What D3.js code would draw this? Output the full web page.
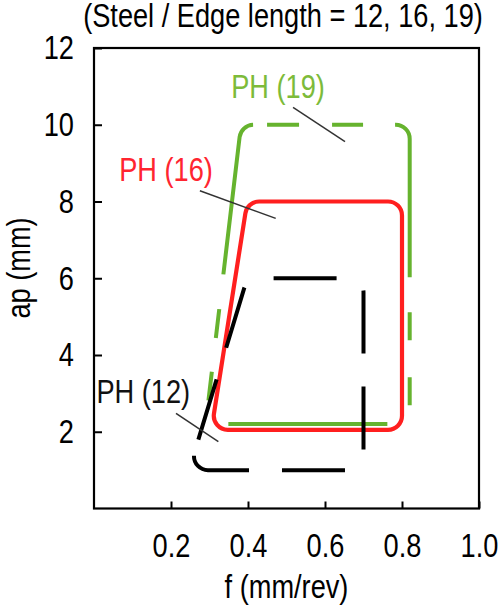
<!DOCTYPE html>
<html>
<head>
<meta charset="utf-8">
<script src="https://cdn.jsdelivr.net/npm/d3@7"></script>
<style>
  body { margin: 0; background: #fff; }
  svg text { font-family: "Liberation Sans", Arial, sans-serif; }
</style>
</head>
<body>
<svg id="chart" width="500" height="606"></svg>
<script>
// valeurs
const xTicks = [0.2, 0.4, 0.6, 0.8, 1.0];
const yTicks = [2, 4, 6, 8, 10, 12];
const seriesNames = ['PH (12)', 'PH (16)', 'PH (19)'];

// contours (f en mm/rev, ap en mm), sommets : bas-gauche, haut-gauche, haut-droit, bas-droit
const fPH12 = [0.247, 0.398, 0.70, 0.70];
const apPH12 = [1.0, 6.0, 6.0, 1.0];
const fPH16 = [0.305, 0.398, 0.80, 0.80];
const apPH16 = [2.05, 8.0, 8.0, 2.05];
const fPH19 = [0.29, 0.382, 0.82, 0.82];
const apPH19 = [2.2, 10.0, 10.0, 2.2];

const width = 500, height = 606;
const margin = { top: 48, right: 21, bottom: 97.5, left: 94 };

const svg = d3.select('#chart');

const x = d3.scaleLinear().domain([0, 1]).range([margin.left, width - margin.right]);
const y = d3.scaleLinear().domain([0, 12]).range([height - margin.bottom, margin.top]);

const fontSize = 34;
const squeeze = 0.8; // police étroite simulée

// resserre le texte horizontalement autour de son point d'ancrage
function condense(sel, extra) {
    sel.each(function () {
        const t = d3.select(this);
        const tx = +t.attr('x') || 0, ty = +t.attr('y') || 0;
        t.attr('x', 0).attr('y', 0)
            .attr('transform', `translate(${tx},${ty}) ${extra || ''} scale(${squeeze},1)`);
    });
}

// chemin fermé à coins arrondis (arcs), départ au point de tangence après le premier sommet
function roundedPath(pts, r) {
    const n = pts.length;
    const p = d3.path();
    const v0 = pts[0], a = pts[n - 1], b = pts[1];
    const u1 = [a[0] - v0[0], a[1] - v0[1]], u2 = [b[0] - v0[0], b[1] - v0[1]];
    const l1 = Math.hypot(u1[0], u1[1]), l2 = Math.hypot(u2[0], u2[1]);
    const theta = Math.acos((u1[0] * u2[0] + u1[1] * u2[1]) / (l1 * l2));
    const t = r / Math.tan(theta / 2);
    p.moveTo(v0[0] + u2[0] * t / l2, v0[1] + u2[1] * t / l2);
    for (let i = 1; i <= n; i++) {
        const v = pts[i % n];
        const next = pts[(i + 1) % n];
        p.arcTo(v[0], v[1], next[0], next[1], r);
    }
    p.closePath();
    return p.toString();
}

const shapes = [
    { name: seriesNames[2], f: fPH19, ap: apPH19, color: '#66b32e', width: 4,
      dash: '0 8 29 34 29 35 158 14 32 33 31 32 161 35 28 37 28 35 159 40', offset: 0 },
    { name: seriesNames[1], f: fPH16, ap: apPH16, color: '#ff1f1f', width: 4.2, dash: null, offset: 0 },
    { name: seriesNames[0], f: fPH12, ap: apPH12, color: '#000', width: 4, dash: '63 33', offset: 83 }
];

svg.append('g')
    .selectAll('path')
    .data(shapes)
    .enter()
    .append('path')
    .attr('d', d => roundedPath(d.f.map((v, i) => [x(v), y(d.ap[i])]), 14))
    .attr('fill', 'none')
    .attr('stroke', d => d.color)
    .attr('stroke-width', d => d.width)
    .attr('stroke-dasharray', d => d.dash)
    .attr('stroke-dashoffset', d => d.offset);

// étiquettes et traits de rappel
const notes = [
    { text: seriesNames[2], color: '#7dbb3a', tf: 0.478, tap: 10.69, l: [[0.517, 10.45], [0.652, 9.56]] },
    { text: seriesNames[1], color: '#ff2530', tf: 0.187, tap: 8.54, l: [[0.275, 8.28], [0.472, 7.56]] },
    { text: seriesNames[0], color: '#111', tf: 0.128, tap: 2.74, l: [[0.213, 2.48], [0.323, 1.74]] }
];

svg.append('g')
    .selectAll('line')
    .data(notes)
    .enter()
    .append('line')
    .attr('x1', d => x(d.l[0][0]))
    .attr('y1', d => y(d.l[0][1]))
    .attr('x2', d => x(d.l[1][0]))
    .attr('y2', d => y(d.l[1][1]))
    .attr('stroke', '#333')
    .attr('stroke-width', 1.5);

svg.append('g')
    .selectAll('text')
    .data(notes)
    .enter()
    .append('text')
    .attr('x', d => x(d.tf))
    .attr('y', d => y(d.tap))
    .attr('text-anchor', 'middle')
    .attr('fill', d => d.color)
    .style('font-size', fontSize + 'px')
    .text(d => d.text)
    .call(condense);

// axes, graduations vers l'intérieur
const xAxis = svg.append('g')
    .attr('transform', `translate(0,${height - margin.bottom})`)
    .call(d3.axisBottom(x).tickValues(xTicks).tickFormat(d3.format('.1f'))
        .tickSizeInner(-7).tickSizeOuter(0).tickPadding(24));

const yAxis = svg.append('g')
    .attr('transform', `translate(${margin.left},0)`)
    .call(d3.axisLeft(y).tickValues(yTicks).tickFormat(d3.format('d'))
        .tickSizeInner(-8).tickSizeOuter(0).tickPadding(20));

[xAxis, yAxis].forEach(a => {
    a.select('.domain').remove();
    a.selectAll('line').attr('stroke', '#000').attr('stroke-width', 2);
    a.selectAll('text').attr('fill', '#000').style('font-size', fontSize + 'px').call(condense);
});

// cadre
svg.append('rect')
    .attr('x', x(0))
    .attr('y', y(12))
    .attr('width', x(1) - x(0))
    .attr('height', y(0) - y(12))
    .attr('fill', 'none')
    .attr('stroke', '#000')
    .attr('stroke-width', 2.2);

// titres
svg.append('text')
    .attr('x', (x(0) + x(1)) / 2)
    .attr('y', 598)
    .attr('text-anchor', 'middle')
    .style('font-size', fontSize + 'px')
    .text('f (mm/rev)')
    .call(condense);

svg.append('text')
    .attr('x', 30)
    .attr('y', 268)
    .attr('text-anchor', 'middle')
    .style('font-size', fontSize + 'px')
    .text('ap (mm)')
    .call(condense, 'rotate(-90)');

svg.append('text')
    .attr('x', 283)
    .attr('y', 27)
    .attr('text-anchor', 'middle')
    .style('font-size', fontSize + 'px')
    .text('(Steel / Edge length = 12, 16, 19)')
    .call(condense);
</script>
</body>
</html>
